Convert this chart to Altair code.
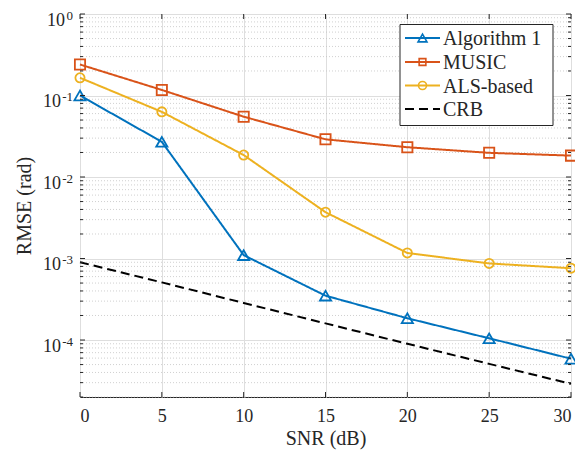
import altair as alt
import pandas as pd

snr = [0, 5, 10, 15, 20, 25, 30]
alg1 = [0.1, 0.027, 1.1e-3, 3.5e-4, 1.85e-4, 1.05e-4, 5.9e-5]
music = [0.24, 0.117, 0.055, 0.029, 0.0232, 0.0198, 0.0183]
als = [0.165, 0.063, 0.0186, 3.7e-3, 1.17e-3, 8.7e-4, 7.6e-4]
crb = [9.0e-4, 5.1e-4, 2.85e-4, 1.6e-4, 9.0e-5, 5.1e-5, 2.9e-5]

names = ["Algorithm 1", "MUSIC", "ALS-based", "CRB"]
colors = ["#0072BD", "#D95319", "#EDB120", "#000000"]
shapes = ["triangle-up", "square", "circle", "circle"]
dashes = [[1, 0], [1, 0], [1, 0], [9, 5]]

x_ticks = [0, 5, 10, 15, 20, 25, 30]
y_major = [1e-4, 1e-3, 1e-2, 1e-1, 1.0]
y_exp = ["-4", "-3", "-2", "-1", "0"]
y_minor = [m * 10.0 ** e for e in range(-5, 0) for m in range(2, 10) if m * 10.0 ** e >= 2e-5]

W, H = 491, 383
FONT = "Liberation Serif"
TXT = "#262626"

rows = []
for n, vals in zip(names, [alg1, music, als, crb]):
    for s, v in zip(snr, vals):
        rows.append({"snr": s, "value": v, "name": n})
df = pd.DataFrame(rows)

xs = alt.Scale(domain=[0, 30], nice=False, zero=False)
ys = alt.Scale(type="log", domain=[2e-5, 1], nice=False)
cs = alt.Scale(domain=names, range=colors)

minor_df = pd.DataFrame({"y": y_minor})
minor_grid = alt.Chart(minor_df).mark_rule(color="#c4c4c4", strokeDash=[1, 2], strokeWidth=0.8).encode(
    y=alt.Y("y:Q", scale=ys), x=alt.value(0), x2=alt.value(W))

base = alt.Chart(df).encode(
    x=alt.X("snr:Q", scale=xs, title="SNR (dB)",
            axis=alt.Axis(values=x_ticks, grid=True, gridColor="#dedede", gridWidth=1,
                          ticks=False, domain=False, labelFont=FONT, labelFontSize=18,
                          labelColor=TXT, labelPadding=10, titleFont=FONT, titleFontSize=20,
                          titleFontWeight="normal", titleColor=TXT,
                          titleX=W / 2, titleY=41, titleBaseline="middle")),
    y=alt.Y("value:Q", scale=ys, title="RMSE (rad)",
            axis=alt.Axis(values=y_major, grid=True, gridColor="#dedede", gridWidth=1,
                          ticks=False, domain=False, labels=False,
                          titleFont=FONT, titleFontSize=20, titleFontWeight="normal",
                          titleColor=TXT, titleX=-56, titleY=H / 2, titleAngle=270,
                          titleBaseline="middle", titleAlign="center")),
    color=alt.Color("name:N", scale=cs, legend=None),
)

lines = base.mark_line(strokeWidth=2).encode(
    strokeDash=alt.StrokeDash("name:N", scale=alt.Scale(domain=names, range=dashes), legend=None))

pts = base.transform_filter(alt.datum.name != "CRB").mark_point(filled=False, strokeWidth=1.8, opacity=1).encode(
    shape=alt.Shape("name:N", scale=alt.Scale(domain=names, range=shapes), legend=None),
    size=alt.Size("name:N", scale=alt.Scale(domain=names, range=[125, 64, 95, 95]), legend=None))

xt_df = pd.DataFrame({"x": x_ticks})
xt_bot = alt.Chart(xt_df).mark_rule(color=TXT).encode(
    x=alt.X("x:Q", scale=xs), y=alt.value(H), y2=alt.value(H - 5))
xt_top = alt.Chart(xt_df).mark_rule(color=TXT).encode(
    x=alt.X("x:Q", scale=xs), y=alt.value(0), y2=alt.value(5))
ymaj_df = pd.DataFrame({"y": y_major, "e": y_exp})
yt_l = alt.Chart(ymaj_df).mark_rule(color=TXT).encode(
    y=alt.Y("y:Q", scale=ys), x=alt.value(0), x2=alt.value(5))
yt_r = alt.Chart(ymaj_df).mark_rule(color=TXT).encode(
    y=alt.Y("y:Q", scale=ys), x=alt.value(W - 5), x2=alt.value(W))
ymin_l = alt.Chart(minor_df).mark_rule(color=TXT).encode(
    y=alt.Y("y:Q", scale=ys), x=alt.value(0), x2=alt.value(3))
ymin_r = alt.Chart(minor_df).mark_rule(color=TXT).encode(
    y=alt.Y("y:Q", scale=ys), x=alt.value(W - 3), x2=alt.value(W))

ylab = []
for v, e in zip(y_major, y_exp):
    one = pd.DataFrame({"y": [v], "e": [e], "b": ["10"]})
    ew = 8 if e == "0" else 12
    ylab.append(alt.Chart(one).mark_text(
        align="right", baseline="middle", font=FONT, fontSize=18, color=TXT, dy=6.5).encode(
        y=alt.Y("y:Q", scale=ys), x=alt.value(-7 - ew), text="b:N"))
    ylab.append(alt.Chart(one).mark_text(
        align="right", baseline="middle", font=FONT, fontSize=13, color=TXT, dy=1.5).encode(
        y=alt.Y("y:Q", scale=ys), x=alt.value(-7), text="e:N"))

leg_layers = []
box = alt.Chart(pd.DataFrame({"a": [0]})).mark_rect(
    fill="white", stroke=TXT, strokeWidth=1).encode(
    x=alt.value(320), x2=alt.value(473), y=alt.value(10.5), y2=alt.value(111.5))
leg_layers.append(box)
for i, (n, c, sh, d) in enumerate(zip(names, colors, shapes, dashes)):
    yy = [24, 48, 71.5, 95][i]
    ldf = pd.DataFrame({"name": [n]})
    leg_layers.append(alt.Chart(ldf).mark_rule(color=c, strokeWidth=2, strokeDash=d).encode(
        x=alt.value(325), x2=alt.value(360), y=alt.value(yy)))
    if n != "CRB":
        leg_layers.append(alt.Chart(ldf).mark_point(
            color=c, shape=sh, filled=False, strokeWidth=1.6, opacity=1,
            size=[80, 45, 64][i]).encode(x=alt.value(342.5), y=alt.value(yy)))
    leg_layers.append(alt.Chart(ldf).mark_text(
        align="left", baseline="middle", font=FONT, fontSize=20, color=TXT).encode(
        x=alt.value(363), y=alt.value(yy + 1), text="name:N"))

chart = alt.layer(minor_grid, lines, pts, xt_bot, xt_top, yt_l, yt_r, ymin_l, ymin_r,
                  *ylab, *leg_layers).properties(
    width=W, height=H,
    autosize=alt.AutoSizeParams(type="none"),
    padding={"left": 72, "top": 6, "right": 4, "bottom": 56},
).configure_view(stroke=TXT, strokeWidth=1)

chart.save("out.html", embed_options={"renderer": "svg", "actions": False})
